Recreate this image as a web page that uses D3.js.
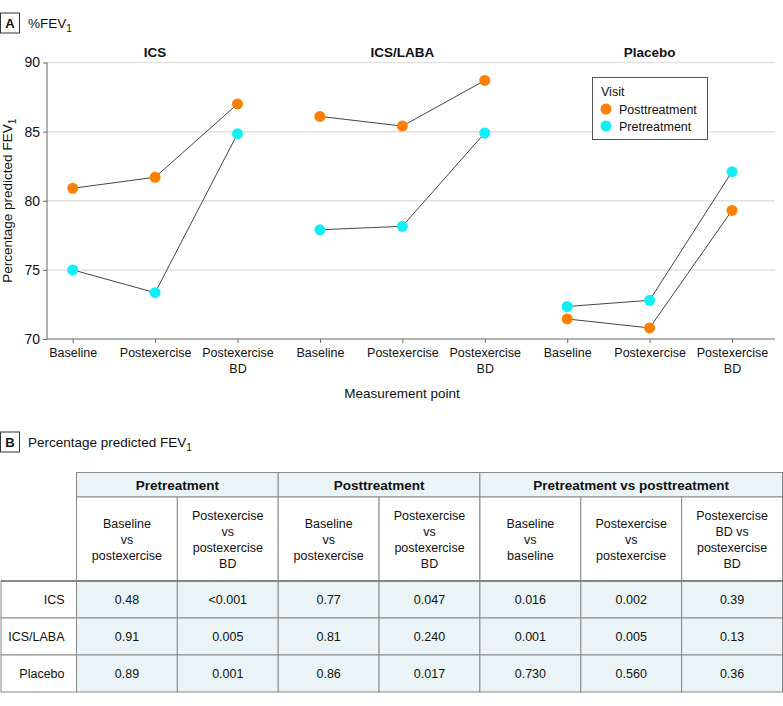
<!DOCTYPE html>
<html><head><meta charset="utf-8">
<script src="https://cdn.jsdelivr.net/npm/d3@7"></script>
<style>
body{margin:0;background:#fff;}
svg{display:block;font-family:"Liberation Sans",Arial,sans-serif;}
</style></head>
<body><svg id="c" width="783" height="706"></svg>
<script>
// ---------- data ----------
const facets = ["ICS", "ICS/LABA", "Placebo"];
const measures = ["Baseline", "Postexercise", "Postexercise BD"];
const seriesNames = ["Posttreatment", "Pretreatment"];
const posttreatment = [
  [80.9, 81.7, 87.0],   // ICS
  [86.1, 85.4, 88.7],   // ICS/LABA
  [71.45, 70.8, 79.3]   // Placebo
];
const pretreatment = [
  [75.0, 73.35, 84.85],
  [77.9, 78.15, 84.9],
  [72.35, 72.8, 82.1]
];
const yTicks = [70, 75, 80, 85, 90];

const tableRows = ["ICS", "ICS/LABA", "Placebo"];
const groupHeaders = ["Pretreatment", "Posttreatment", "Pretreatment vs posttreatment"];
const groupSpans = [2, 2, 3];
const subHeaders = [
  ["Baseline", "vs", "postexercise"],
  ["Postexercise", "vs", "postexercise", "BD"],
  ["Baseline", "vs", "postexercise"],
  ["Postexercise", "vs", "postexercise", "BD"],
  ["Baseline", "vs", "baseline"],
  ["Postexercise", "vs", "postexercise"],
  ["Postexercise", "BD vs", "postexercise", "BD"]
];
const pValues = [
  ["0.48", "<0.001", "0.77", "0.047", "0.016", "0.002", "0.39"],
  ["0.91", "0.005", "0.81", "0.240", "0.001", "0.005", "0.13"],
  ["0.89", "0.001", "0.86", "0.017", "0.730", "0.560", "0.36"]
];

// ---------- setup ----------
const svg = d3.select("#c");
const colors = {Posttreatment: "#ff7f00", Pretreatment: "#12eef6"};
const FS = 12.5;
const TXT = "#111";

// panel label helper
function panelLabel(letter, text, y) {
  svg.append("rect").attr("x", 0.5).attr("y", y - 10).attr("width", 19).attr("height", 20)
    .attr("fill", "#fff").attr("stroke", "#333").attr("stroke-width", 1);
  svg.append("text").attr("x", 10).attr("y", y + 5).attr("text-anchor", "middle")
    .attr("font-weight", "bold").attr("font-size", 13).attr("fill", TXT).text(letter);
  const t = svg.append("text").attr("x", 28).attr("y", y + 5).attr("font-size", 13.5).attr("fill", TXT);
  t.append("tspan").text(text);
  t.append("tspan").attr("font-size", 10).attr("dy", 4).text("1");
}
panelLabel("A", "%FEV", 23);
panelLabel("B", "Percentage predicted FEV", 442);

// ---------- chart ----------
const keys = [];
facets.forEach(f => measures.forEach(m => keys.push(f + "|" + m)));
const x = d3.scalePoint().domain(keys).range([72.7, 732]);
const y = d3.scaleLinear().domain([70, 90]).range([339, 62.5]);
const axLeft = 47, axRight = 775;

const g = svg.append("g");
// gridlines
g.selectAll("line.grid").data(yTicks.filter(d => d !== 70)).enter().append("line")
  .attr("x1", axLeft).attr("x2", axRight).attr("y1", d => y(d)).attr("y2", d => y(d))
  .attr("stroke", "#e2e2e2").attr("stroke-width", 1.5);

// y axis
const yAx = g.append("g").attr("transform", `translate(${axLeft},0)`)
  .call(d3.axisLeft(y).tickValues(yTicks).tickSize(4).tickPadding(3));
yAx.select(".domain").attr("stroke", "#666").attr("d", `M0,${y(90)}V${y(70)}`);
yAx.selectAll(".tick line").attr("stroke", "#666");
yAx.selectAll(".tick text").attr("font-size", 14).attr("fill", TXT).attr("font-family", "Liberation Sans, Arial, sans-serif");

// x axis
const xAx = g.append("g").attr("transform", `translate(0,${y(70)})`)
  .call(d3.axisBottom(x).tickSize(4).tickFormat(""));
xAx.select(".domain").attr("stroke", "#666").attr("d", `M${axLeft},0H${axRight}`);
xAx.selectAll(".tick line").attr("stroke", "#666");
xAx.selectAll(".tick").each(function(d) {
  const m = d.split("|")[1];
  const parts = m === "Postexercise BD" ? ["Postexercise", "BD"] : [m];
  const t = d3.select(this).append("text").attr("fill", TXT).attr("font-size", FS)
    .attr("text-anchor", "middle").attr("font-family", "Liberation Sans, Arial, sans-serif");
  parts.forEach((p, i) => t.append("tspan").attr("x", 0).attr("y", 18 + i * 16).text(p));
});

// axis titles
svg.append("text").attr("x", 402).attr("y", 398).attr("text-anchor", "middle")
  .attr("font-size", 13.5).attr("fill", TXT).text("Measurement point");
const yt = svg.append("text").attr("transform", `translate(12,${(y(90) + y(70)) / 2}) rotate(-90)`)
  .attr("text-anchor", "middle").attr("font-size", 13.5).attr("fill", TXT);
yt.append("tspan").text("Percentage predicted FEV");
yt.append("tspan").attr("font-size", 10).attr("dy", 4).text("1");

// facet titles
svg.selectAll("text.facet").data(facets).enter().append("text")
  .attr("x", f => x(f + "|" + measures[1])).attr("y", 57).attr("text-anchor", "middle")
  .attr("font-weight", "bold").attr("font-size", 13.5).attr("fill", TXT).text(f => f);

// lines and points
const seriesData = {Posttreatment: posttreatment, Pretreatment: pretreatment};
const line = d3.line().x(d => x(d.k)).y(d => y(d.v));
seriesNames.forEach(s => {
  facets.forEach((f, fi) => {
    const pts = measures.map((m, mi) => ({k: f + "|" + m, v: seriesData[s][fi][mi]}));
    g.append("path").datum(pts).attr("d", line).attr("fill", "none")
      .attr("stroke", "#444").attr("stroke-width", 1);
  });
});
seriesNames.forEach(s => {
  facets.forEach((f, fi) => {
    const pts = measures.map((m, mi) => ({k: f + "|" + m, v: seriesData[s][fi][mi]}));
    g.selectAll(null).data(pts).enter().append("circle")
      .attr("cx", d => x(d.k)).attr("cy", d => y(d.v)).attr("r", 5.5).attr("fill", colors[s]);
  });
});

// legend
const lg = svg.append("g").attr("transform", "translate(592,77)");
lg.append("rect").attr("x", 0.5).attr("y", 0.5).attr("width", 115).attr("height", 62)
  .attr("fill", "#fff").attr("stroke", "#555").attr("stroke-width", 1);
lg.append("text").attr("x", 9).attr("y", 19).attr("font-size", FS).attr("fill", TXT).text("Visit");
seriesNames.forEach((s, i) => {
  lg.append("circle").attr("cx", 14).attr("cy", 32 + i * 17).attr("r", 5.5).attr("fill", colors[s]);
  lg.append("text").attr("x", 27).attr("y", 36.5 + i * 17).attr("font-size", FS).attr("fill", TXT).text(s);
});

// ---------- table ----------
const tb = svg.append("g");
const colX = d3.scaleBand().domain(d3.range(7)).range([76.5, 782.5]);
const labelLeft = 1;
const rTop = 472.5, rHead1 = 497, rHead2 = 581;
const rowY = d3.scaleBand().domain(d3.range(tableRows.length)).range([rHead2, 692]);
const cellFill = "#eaf4f6", border = "#8a8a8a";

// group header row
let ci = 0;
groupHeaders.forEach((h, gi) => {
  const x0 = colX(ci), x1 = colX(ci + groupSpans[gi] - 1) + colX.bandwidth();
  tb.append("rect").attr("x", x0).attr("y", rTop).attr("width", x1 - x0).attr("height", rHead1 - rTop)
    .attr("fill", cellFill).attr("stroke", border);
  tb.append("text").attr("x", (x0 + x1) / 2).attr("y", rTop + 17).attr("text-anchor", "middle")
    .attr("font-weight", "bold").attr("font-size", 13.5).attr("fill", TXT).text(h);
  ci += groupSpans[gi];
});
// sub header row
subHeaders.forEach((lines, i) => {
  tb.append("rect").attr("x", colX(i)).attr("y", rHead1).attr("width", colX.bandwidth()).attr("height", rHead2 - rHead1)
    .attr("fill", "#fff").attr("stroke", border);
  const mid = (rHead1 + rHead2) / 2;
  const lh = 16;
  const start = mid - (lines.length - 1) * lh / 2 + 4.5;
  const t = tb.append("text").attr("text-anchor", "middle").attr("font-size", FS).attr("fill", TXT);
  lines.forEach((l, j) => t.append("tspan").attr("x", colX(i) + colX.bandwidth() / 2).attr("y", start + j * lh).text(l));
});
// data rows
tableRows.forEach((r, ri) => {
  const y0 = rowY(ri), h = rowY.bandwidth();
  tb.append("rect").attr("x", labelLeft).attr("y", y0).attr("width", colX(0) - labelLeft).attr("height", h)
    .attr("fill", "#fff").attr("stroke", border);
  tb.append("text").attr("x", colX(0) - 12).attr("y", y0 + h / 2 + 4.5).attr("text-anchor", "end")
    .attr("font-size", FS).attr("fill", TXT).text(r);
  pValues[ri].forEach((v, i) => {
    tb.append("rect").attr("x", colX(i)).attr("y", y0).attr("width", colX.bandwidth()).attr("height", h)
      .attr("fill", cellFill).attr("stroke", border);
    tb.append("text").attr("x", colX(i) + colX.bandwidth() / 2).attr("y", y0 + h / 2 + 4.5)
      .attr("text-anchor", "middle").attr("font-size", FS).attr("fill", TXT).text(v);
  });
});
// thicker separator under header
tb.append("line").attr("x1", labelLeft).attr("x2", 782.5).attr("y1", rHead2).attr("y2", rHead2)
  .attr("stroke", "#777").attr("stroke-width", 1.5);
</script></body></html>
